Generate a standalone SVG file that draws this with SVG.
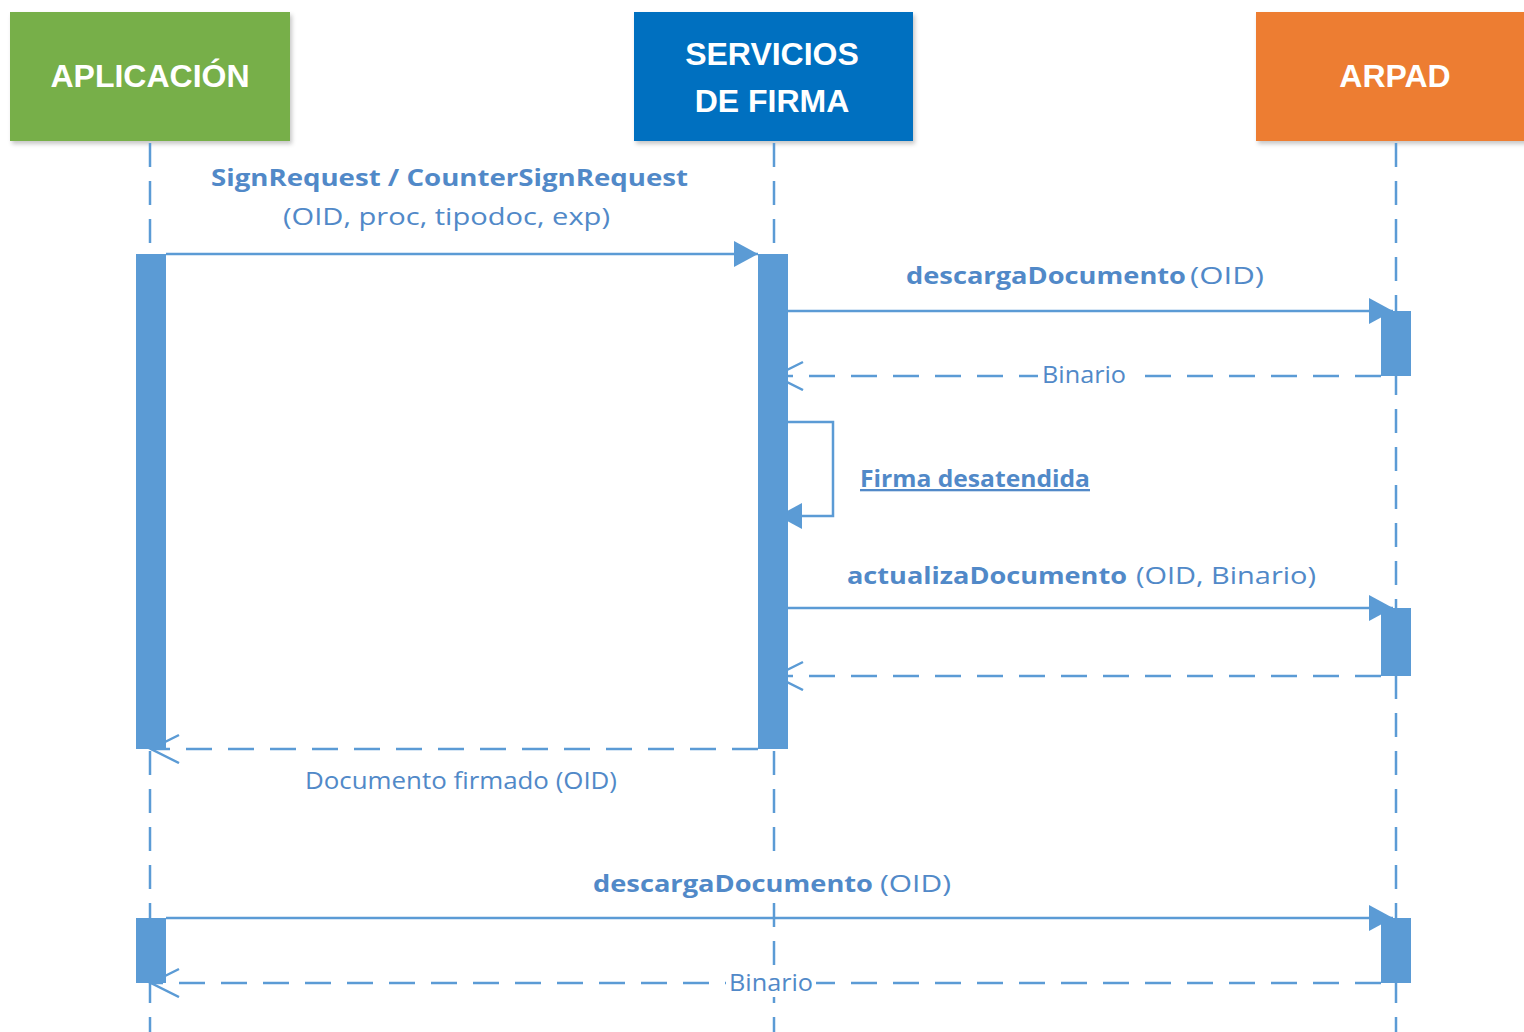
<svg xmlns="http://www.w3.org/2000/svg" width="1524" height="1032" viewBox="0 0 1524 1032">
<defs>
<filter id="shadow" x="-10%" y="-10%" width="130%" height="140%">
<feDropShadow dx="2" dy="3" stdDeviation="2" flood-color="#000" flood-opacity="0.22"/>
</filter>
<marker id="arrowFilled" markerUnits="userSpaceOnUse" markerWidth="26" markerHeight="28" refX="24" refY="13" orient="auto">
<path d="M0,0 L24,13 L0,26 z" fill="#5B9BD5"/>
</marker>
<marker id="arrowOpen" markerUnits="userSpaceOnUse" markerWidth="34" markerHeight="32" refX="30" refY="15" orient="auto">
<path d="M2,1 L30,15 L2,29" fill="none" stroke="#5B9BD5" stroke-width="2.5"/>
</marker>
<style>
.box{filter:url(#shadow);}
.hdr{font-family:"Liberation Sans",Arial,sans-serif;font-weight:bold;font-size:32px;fill:#FFFFFF;text-anchor:middle;}
.life{stroke:#5B9BD5;stroke-width:2.5;stroke-dasharray:24 14;fill:none;}
.bar{fill:#5B9BD5;}
.msg{stroke:#5B9BD5;stroke-width:2.5;fill:none;}
.sync{marker-end:url(#arrowFilled);}
.ret{stroke-dasharray:26 16;marker-end:url(#arrowOpen);}
.lbl{font-family:"Open Sans","Liberation Sans",sans-serif;font-size:23px;fill:#5189C8;}
.b{font-weight:bold;}
.bg{fill:#FFFFFF;}
</style>
</defs>
<rect width="1524" height="1032" fill="#FFFFFF"/>

<g id="node-aplicacion">
<rect class="box" x="10" y="12" width="280" height="129" fill="#77AF4A"/>
<text class="hdr" x="150" y="87">APLICACIÓN</text>
<line class="life" x1="150" y1="143" x2="150" y2="1032"/>
</g>

<g id="node-servicios">
<rect class="box" x="634" y="12" width="279" height="129" fill="#0070C0"/>
<text class="hdr" x="772" y="65">SERVICIOS</text>
<text class="hdr" x="772" y="112">DE FIRMA</text>
<line class="life" x1="774" y1="143" x2="774" y2="1032"/>
</g>

<g id="node-arpad">
<rect class="box" x="1256" y="12" width="280" height="129" fill="#ED7D31"/>
<text class="hdr" x="1395" y="87">ARPAD</text>
<line class="life" x1="1396" y1="143" x2="1396" y2="1032"/>
</g>

<g id="connectors">
<line class="msg sync" x1="166" y1="254" x2="758" y2="254"/>
<line class="msg sync" x1="788" y1="311" x2="1393" y2="311"/>
<line class="msg ret" x1="1381" y1="376" x2="775" y2="376"/>
<path class="msg sync" d="M788,422 H833 V516 H778"/>
<line class="msg sync" x1="788" y1="608" x2="1393" y2="608"/>
<line class="msg ret" x1="1381" y1="676" x2="775" y2="676"/>
<line class="msg ret" x1="758" y1="749" x2="151" y2="749"/>
<line class="msg sync" x1="166" y1="918" x2="1393" y2="918"/>
<line class="msg ret" x1="1381" y1="983" x2="151" y2="983"/>
</g>

<g id="activations">
<rect class="bar" x="136" y="254" width="30" height="495"/>
<rect class="bar" x="758" y="254" width="30" height="495"/>
<rect class="bar" x="1381" y="311" width="30" height="65"/>
<rect class="bar" x="1381" y="608" width="30" height="68"/>
<rect class="bar" x="136" y="918" width="30" height="65"/>
<rect class="bar" x="1381" y="918" width="30" height="65"/>
</g>

<g id="labels">
<text class="lbl b" x="211" y="186" textLength="477" lengthAdjust="spacingAndGlyphs">SignRequest / CounterSignRequest</text>
<text class="lbl" x="283" y="225" textLength="327" lengthAdjust="spacingAndGlyphs">(OID, proc, tipodoc, exp)</text>

<text class="lbl b" x="906" y="284" textLength="280" lengthAdjust="spacingAndGlyphs">descargaDocumento</text>
<text class="lbl" x="1190" y="284" textLength="74" lengthAdjust="spacingAndGlyphs">(OID)</text>

<rect class="bg" x="1038" y="362" width="92" height="28"/>
<text class="lbl" x="1042" y="383" textLength="84" lengthAdjust="spacingAndGlyphs">Binario</text>

<text class="lbl b" x="860" y="487" textLength="230" lengthAdjust="spacingAndGlyphs" text-decoration="underline">Firma desatendida</text>

<text class="lbl b" x="847" y="584" textLength="280" lengthAdjust="spacingAndGlyphs">actualizaDocumento</text>
<text class="lbl" x="1136" y="584" textLength="180" lengthAdjust="spacingAndGlyphs">(OID, Binario)</text>

<text class="lbl" x="305" y="789" textLength="312" lengthAdjust="spacingAndGlyphs">Documento firmado (OID)</text>

<rect class="bg" x="764" y="864" width="20" height="36"/>
<text class="lbl b" x="593" y="892" textLength="280" lengthAdjust="spacingAndGlyphs">descargaDocumento</text>
<text class="lbl" x="880" y="892" textLength="71" lengthAdjust="spacingAndGlyphs">(OID)</text>

<rect class="bg" x="726" y="969" width="90" height="28"/>
<text class="lbl" x="729" y="991" textLength="84" lengthAdjust="spacingAndGlyphs">Binario</text>
</g>
</svg>
